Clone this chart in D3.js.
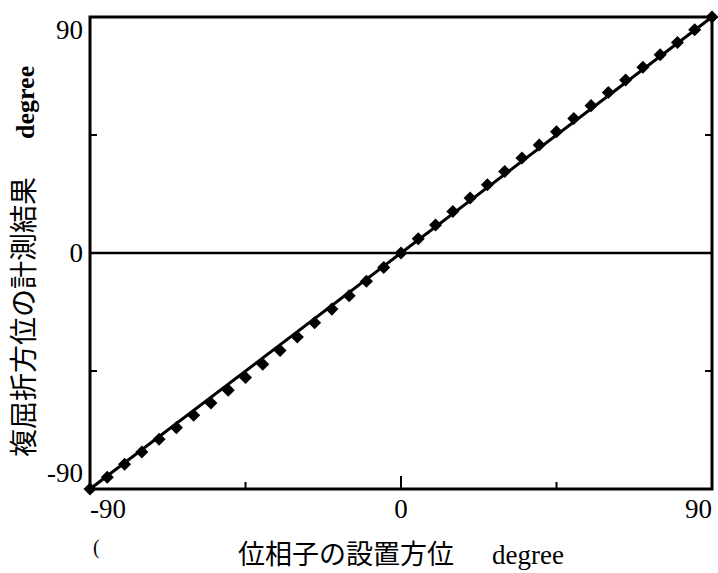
<!DOCTYPE html>
<html>
<head>
<meta charset="utf-8">
<script src="https://cdn.jsdelivr.net/npm/d3@7"></script>
<style>
    body { margin: 0; background: #fff; }
    svg { display: block; }
</style>
</head>
<body>
<div id="chart"></div>
<script>
// setting angle of retarder vs measured birefringence azimuth

var angles = [-90, -85, -80, -75, -70, -65, -60, -55, -50, -45, -40, -35, -30, -25, -20, -15, -10, -5,
    0, 5, 10, 15, 20, 25, 30, 35, 40, 45, 50, 55, 60, 65, 70, 75, 80, 85, 90];
var measured = [-90, -85.5, -80.6, -75.9, -71.0, -66.6, -61.9, -57.2, -52.3, -47.5, -42.4, -37.2, -32.0, -26.6, -21.4, -16.3, -10.8, -5.5,
    0, 5.4, 10.7, 15.8, 21.0, 26.0, 31.1, 36.2, 41.2, 46.2, 51.3, 56.2, 61.2, 66.0, 70.8, 75.6, 80.3, 85.1, 90];
var fitLine = [[-90, -90], [90, 90]];
var xTicks = [-45, 0, 45];
var yTicks = [-45, 45];
var xLimitLabels = ["-90", "0", "90"];
var yLimitLabels = ["90", "0", "-90"];

var width = 718,
    height = 573;
var margin = {top: 17, right: 6, bottom: 84, left: 90};

var svg = d3.select("#chart")
    .append("svg")
    .attr("width", width)
    .attr("height", height);

var x = d3.scaleLinear()
    .domain([-90, 90])
    .range([margin.left, width - margin.right]);

var y = d3.scaleLinear()
    .domain([-90, 90])
    .range([height - margin.bottom, margin.top]);

var serif = "'Liberation Serif', 'Times New Roman', serif";
var cjk = "'Noto Sans CJK JP', sans-serif";

// inner tick marks (bottom, left and right)
var g = svg.append("g");
g.selectAll("line.xtick")
    .data(xTicks)
    .enter()
    .append("line")
    .attr("class", "xtick")
    .attr("x1", function (d) { return x(d); })
    .attr("x2", function (d) { return x(d); })
    .attr("y1", y(-90))
    .attr("y2", function (d) { return y(-90) - (d == 0 ? 13 : 7); })
    .attr("stroke", "#000")
    .attr("stroke-width", 2);

g.selectAll("line.ytickl")
    .data(yTicks)
    .enter()
    .append("line")
    .attr("class", "ytickl")
    .attr("x1", x(-90))
    .attr("x2", x(-90) + 7)
    .attr("y1", function (d) { return y(d); })
    .attr("y2", function (d) { return y(d); })
    .attr("stroke", "#000")
    .attr("stroke-width", 2);

g.selectAll("line.ytickr")
    .data(yTicks)
    .enter()
    .append("line")
    .attr("class", "ytickr")
    .attr("x1", x(90))
    .attr("x2", x(90) - 7)
    .attr("y1", function (d) { return y(d); })
    .attr("y2", function (d) { return y(d); })
    .attr("stroke", "#000")
    .attr("stroke-width", 2);

// zero line
svg.append("line")
    .attr("x1", x(-90))
    .attr("x2", x(90))
    .attr("y1", y(0))
    .attr("y2", y(0))
    .attr("stroke", "#000")
    .attr("stroke-width", 2.5);

// fitted line y = x
var line = d3.line()
    .x(function (d) { return x(d[0]); })
    .y(function (d) { return y(d[1]); });

svg.append("path")
    .datum(fitLine)
    .attr("d", line)
    .attr("fill", "none")
    .attr("stroke", "#000")
    .attr("stroke-width", 3);

// measured points
var symbol = d3.symbol().type(d3.symbolSquare).size(85);
svg.selectAll("path.pt")
    .data(angles)
    .enter()
    .append("path")
    .attr("class", "pt")
    .attr("d", symbol)
    .attr("transform", function (d, i) {
        return "translate(" + x(d) + "," + y(measured[i]) + ") rotate(45)";
    })
    .attr("fill", "#000");

// frame
svg.append("rect")
    .attr("x", x(-90))
    .attr("y", y(90))
    .attr("width", x(90) - x(-90))
    .attr("height", y(-90) - y(90))
    .attr("fill", "none")
    .attr("stroke", "#000")
    .attr("stroke-width", 3);

// y limit labels
svg.selectAll("text.ylab")
    .data([90, 0, -90])
    .enter()
    .append("text")
    .attr("class", "ylab")
    .attr("x", x(-90) - 7)
    .attr("y", function (d) { return y(d) + (d == 90 ? 13 : (d == -90 ? -16 : 0)); })
    .attr("dy", "0.35em")
    .attr("text-anchor", "end")
    .style("font-family", serif)
    .style("font-size", "27px")
    .text(function (d, i) { return yLimitLabels[i]; });

// x limit labels
svg.selectAll("text.xlab")
    .data([-90, 0, 90])
    .enter()
    .append("text")
    .attr("class", "xlab")
    .attr("x", function (d) { return x(d); })
    .attr("y", y(-90) + 29)
    .attr("text-anchor", function (d) { return d == -90 ? "start" : (d == 90 ? "end" : "middle"); })
    .style("font-family", serif)
    .style("font-size", "27px")
    .text(function (d, i) { return xLimitLabels[i]; });

// stray mark below the -90 label
svg.append("text")
    .attr("x", x(-90) + 3)
    .attr("y", 554)
    .style("font-family", serif)
    .style("font-size", "20px")
    .text("(");

// x axis title
var xt = svg.append("text")
    .attr("x", 238)
    .attr("y", 564)
    .style("font-size", "27px");
xt.append("tspan")
    .style("font-family", cjk)
    .text("位相子の設置方位");
xt.append("tspan")
    .attr("dx", 38)
    .style("font-family", serif)
    .style("font-size", "27px")
    .text("degree");

// y axis title
var yt = svg.append("text")
    .attr("transform", "translate(34,457) rotate(-90)")
    .style("font-size", "28px");
yt.append("tspan")
    .style("font-family", cjk)
    .text("複屈折方位の計測結果");
yt.append("tspan")
    .attr("dx", 38)
    .style("font-family", serif)
    .style("font-weight", "bold")
    .style("font-size", "26px")
    .text("degree");
</script>
</body>
</html>
